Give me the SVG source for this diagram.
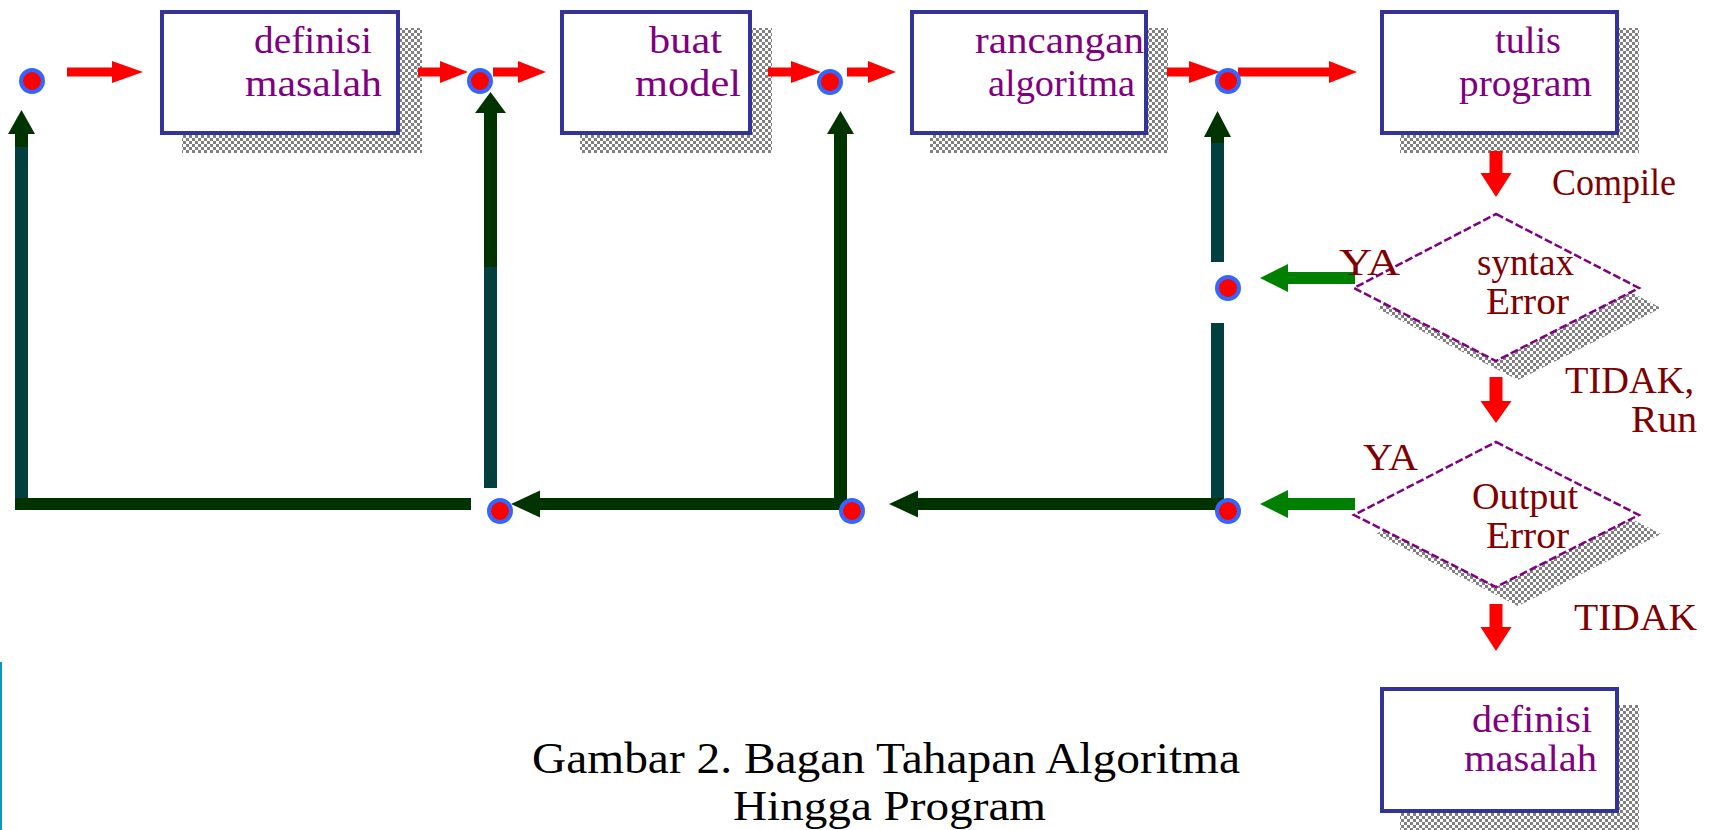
<svg xmlns="http://www.w3.org/2000/svg" width="1711" height="830" viewBox="0 0 1711 830">
<defs>
<pattern id="checker" width="6" height="6" patternUnits="userSpaceOnUse">
<rect width="3" height="3" fill="#808080"/>
<rect x="3" y="3" width="3" height="3" fill="#808080"/>
</pattern>
<style>
.box{fill:#fff;stroke:#333399;stroke-width:4}
.shadow{fill:url(#checker)}
.dia{fill:#fff;stroke:#800080;stroke-width:2.5;stroke-dasharray:8 3}
.nt{font-family:"Liberation Serif","Times New Roman",serif;font-size:38px;fill:#800080}
.lt{font-family:"Liberation Serif","Times New Roman",serif;font-size:38px;fill:#800000}
.cap{font-family:"Liberation Serif","Times New Roman",serif;font-size:44px;fill:#000}
.red{fill:#ff0000}
.dg{fill:#003300}
.tl{fill:#023f3f}
.gr{fill:#008000}
.dot{fill:#ff0000;stroke:#3366ff;stroke-width:4}
</style>
</defs>
<rect width="1711" height="830" fill="#fff"/>
<rect x="0" y="662" width="2" height="168" fill="#0a98b8"/>

<g id="n1">
<rect class="shadow" x="182" y="28" width="240" height="125"/>
<rect class="box" x="162" y="12" width="236" height="121"/>
<text class="nt" x="254" y="53" textLength="118" lengthAdjust="spacingAndGlyphs">definisi</text>
<text class="nt" x="245" y="96" textLength="137" lengthAdjust="spacingAndGlyphs">masalah</text>
</g>
<g id="n2">
<rect class="shadow" x="580" y="28" width="192" height="125"/>
<rect class="box" x="562" y="12" width="188" height="121"/>
<text class="nt" x="649" y="53" textLength="73" lengthAdjust="spacingAndGlyphs">buat</text>
<text class="nt" x="635" y="96" textLength="106" lengthAdjust="spacingAndGlyphs">model</text>
</g>
<g id="n3">
<rect class="shadow" x="930" y="28" width="238" height="125"/>
<rect class="box" x="912" y="12" width="234" height="121"/>
<text class="nt" x="975" y="53" textLength="169" lengthAdjust="spacingAndGlyphs">rancangan</text>
<text class="nt" x="988" y="96" textLength="147" lengthAdjust="spacingAndGlyphs">algoritma</text>
</g>
<g id="n4">
<rect class="shadow" x="1400" y="28" width="239" height="125"/>
<rect class="box" x="1382" y="12" width="235" height="121"/>
<text class="nt" x="1495" y="53" textLength="66" lengthAdjust="spacingAndGlyphs">tulis</text>
<text class="nt" x="1459" y="96" textLength="133" lengthAdjust="spacingAndGlyphs">program</text>
</g>
<g id="d1">
<polygon class="shadow" points="1518,233 1661,308 1518,380 1376,308"/>
<polygon class="dia" points="1496,214 1639,288 1496,361 1354,288"/>
<text class="lt" x="1477" y="275" textLength="97" lengthAdjust="spacingAndGlyphs">syntax</text>
<text class="lt" x="1486" y="314" textLength="83" lengthAdjust="spacingAndGlyphs">Error</text>
</g>
<g id="d2">
<polygon class="shadow" points="1518,461 1661,534 1518,606 1376,534"/>
<polygon class="dia" points="1496,442 1639,515 1496,587 1354,515"/>
<text class="lt" x="1472" y="509" textLength="106" lengthAdjust="spacingAndGlyphs">Output</text>
<text class="lt" x="1486" y="548" textLength="83" lengthAdjust="spacingAndGlyphs">Error</text>
</g>
<g id="n5">
<rect class="shadow" x="1400" y="705" width="239" height="126"/>
<rect class="box" x="1382" y="689" width="235" height="122"/>
<text class="nt" x="1472" y="732" textLength="120" lengthAdjust="spacingAndGlyphs">definisi</text>
<text class="nt" x="1464" y="771" textLength="133" lengthAdjust="spacingAndGlyphs">masalah</text>
</g>

<g id="connectors">
<polygon class="red" points="67,67.5 112,67.5 112,61 143,72 112,83 112,76.5 67,76.5"/>
<polygon class="red" points="418,67.5 440,67.5 440,61 468,72 440,83 440,76.5 418,76.5"/>
<polygon class="red" points="493,67.5 518,67.5 518,61 546,72 518,83 518,76.5 493,76.5"/>
<polygon class="red" points="768,67.5 791,67.5 791,61 821,72 791,83 791,76.5 768,76.5"/>
<polygon class="red" points="847,67.5 868,67.5 868,61 896,72 868,83 868,76.5 847,76.5"/>
<polygon class="red" points="1167,67.5 1189,67.5 1189,61 1220,72 1189,83 1189,76.5 1167,76.5"/>
<polygon class="red" points="1238,67.5 1329,67.5 1329,61 1357,72 1329,83 1329,76.5 1238,76.5"/>
<polygon class="red" points="1489.5,151 1502.5,151 1502.5,173 1511.5,173 1496,197 1480.5,173 1489.5,173"/>
<polygon class="red" points="1489.5,377 1502.5,377 1502.5,401 1511.5,401 1496,423 1480.5,401 1489.5,401"/>
<polygon class="red" points="1489.5,604 1502.5,604 1502.5,627 1511.5,627 1496,651 1480.5,627 1489.5,627"/>

<polygon class="gr" points="1260,278 1288,264 1288,272 1355,272 1355,284 1288,284 1288,292"/>
<polygon class="gr" points="1260,504 1288,490 1288,498 1355,498 1355,510 1288,510 1288,518"/>

<polygon class="dg" points="21.5,110 35,134 28,134 28,147 15,147 15,134 8,134"/>
<rect class="tl" x="15" y="147" width="13" height="357"/>
<rect class="dg" x="15" y="498" width="456" height="12"/>

<polygon class="dg" points="490.5,92 506,113 497,113 497,267 484,267 484,113 475,113"/>
<rect class="tl" x="484" y="267" width="13" height="221"/>

<polygon class="dg" points="840.5,111 854,134 847,134 847,510 834,510 834,134 827,134"/>
<polygon class="dg" points="511,504 540,490.5 540,498 847,498 847,510 540,510 540,517.5"/>

<polygon class="dg" points="1217.5,111 1231,137 1224,137 1224,143 1211,143 1211,137 1204,137"/>
<rect class="tl" x="1211" y="143" width="13" height="119"/>
<rect class="tl" x="1211" y="323" width="13" height="175"/>
<polygon class="dg" points="889,504 918,490.5 918,498 1224,498 1224,510 918,510 918,517.5"/>

<circle class="dot" cx="32" cy="81" r="11"/>
<circle class="dot" cx="480" cy="81" r="11"/>
<circle class="dot" cx="830" cy="82" r="11"/>
<circle class="dot" cx="1228" cy="81" r="11"/>
<circle class="dot" cx="1228" cy="288" r="11"/>
<circle class="dot" cx="500" cy="511" r="11"/>
<circle class="dot" cx="852" cy="511" r="11"/>
<circle class="dot" cx="1228" cy="511" r="11"/>
</g>

<g id="labels">
<text class="lt" x="1552" y="195" textLength="124" lengthAdjust="spacingAndGlyphs">Compile</text>
<text class="lt" x="1339" y="275" textLength="61" lengthAdjust="spacingAndGlyphs">YA</text>
<text class="lt" x="1565" y="393" textLength="129" lengthAdjust="spacingAndGlyphs">TIDAK,</text>
<text class="lt" x="1631" y="432" textLength="66" lengthAdjust="spacingAndGlyphs">Run</text>
<text class="lt" x="1363" y="470" textLength="55" lengthAdjust="spacingAndGlyphs">YA</text>
<text class="lt" x="1574" y="630" textLength="123" lengthAdjust="spacingAndGlyphs">TIDAK</text>
</g>

<g id="caption">
<text class="cap" x="532" y="773" textLength="708" lengthAdjust="spacingAndGlyphs">Gambar 2. Bagan Tahapan Algoritma</text>
<text class="cap" x="733" y="820" textLength="313" lengthAdjust="spacingAndGlyphs" style="font-size:42px">Hingga Program</text>
</g>
</svg>
